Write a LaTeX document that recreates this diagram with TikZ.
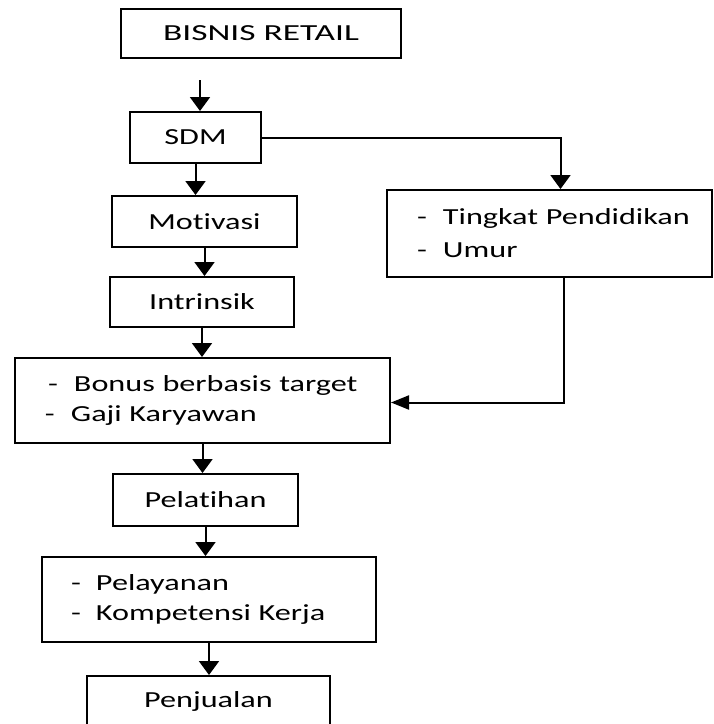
\documentclass[tikz,border=0pt]{standalone}
\usepackage{fontspec}
\setmainfont[FakeStretch=1.4,Ligatures=NoCommon]{Carlito}
\usetikzlibrary{arrows.meta}
\begin{document}
\begin{tikzpicture}[x=1pt,y=-1pt,
  box/.style={draw,line width=2pt,rectangle,inner sep=0pt,font=\fontsize{23}{30}\selectfont},
  listbox/.style={box,align=left,inner xsep=0pt},
  arr/.style={line width=2pt,-{Triangle[width=20pt,length=14pt]}},
  sidearr/.style={line width=2pt,-{Triangle[width=14pt,length=18pt]}}]
\useasboundingbox (0,0) rectangle (714,724);
\clip (0,0) rectangle (714,724);
\fill[white] (0,0) rectangle (714,724);
\node[box,minimum width=280pt,minimum height=49pt] (bisnis) at (261,33.5) {\scalebox{1.1}[1]{BISNIS RETAIL}};
\node[box,minimum width=131pt,minimum height=51pt] (sdm) at (195.5,137.5) {SDM};
\node[box,minimum width=185pt,minimum height=51pt] (mot) at (204.5,221.5) {Motivasi};
\node[box,minimum width=184pt,minimum height=50pt] (intr) at (202,302) {Intrinsik};
\node[listbox,text width=325pt,minimum height=87pt,font=\fontsize{23}{33}\selectfont] (tk) at (549.5,233.5)
  {\hspace*{30pt}\makebox[26pt][l]{-}Tingkat Pendidikan\\\hspace*{30pt}\makebox[26pt][l]{-}Umur};
\node[listbox,text width=375pt,minimum height=85pt] (bonus) at (202.5,400.5)
  {\hspace*{33pt}\makebox[26pt][l]{-}Bonus berbasis target\\\hspace*{30pt}\makebox[26pt][l]{-}Gaji Karyawan};
\node[box,minimum width=185pt,minimum height=52pt] (pel) at (205.5,500) {Pelatihan};
\node[listbox,text width=334pt,minimum height=85pt] (lay) at (209,599.5)
  {\hspace*{29pt}\makebox[25pt][l]{-}Pelayanan\\\hspace*{29pt}\makebox[25pt][l]{-}Kompetensi Kerja};
\node[box,minimum width=243pt,minimum height=51pt] (jual) at (208.5,701.5) {Penjualan};
\coordinate (top) at (200,80);
\draw[arr] (top) -- (top |- sdm.north);
\draw[arr] (sdm.south) -- (sdm.south |- mot.north);
\draw[arr] (mot.south) -- (mot.south |- intr.north);
\draw[arr] (intr.south) -- (intr.south |- bonus.north);
\draw[arr] (bonus.south) -- (bonus.south |- pel.north);
\draw[arr] (pel.south) -- (pel.south |- lay.north);
\draw[arr] (lay.south) -- (lay.south |- jual.north);
\draw[arr] (sdm.east) -| ([xshift=11pt]tk.north);
\draw[sidearr] ([xshift=14pt]tk.south) |- ([yshift=-2pt]bonus.east);
\end{tikzpicture}
\end{document}
